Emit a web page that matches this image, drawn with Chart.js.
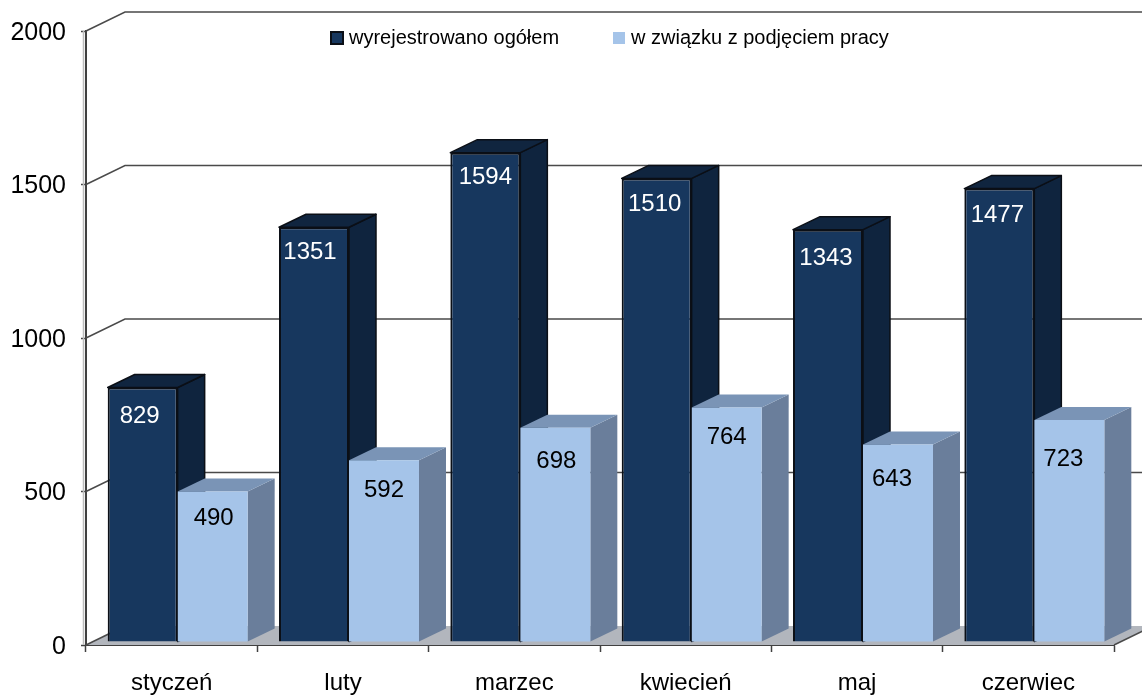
<!DOCTYPE html>
<html lang="pl">
  <head>
    <meta charset="UTF-8" />
    <title>Wyrejestrowani</title>
    <script src="https://cdn.jsdelivr.net/npm/chart.js@4/dist/chart.umd.min.js"></script>
    <style>
      html, body { margin: 0; padding: 0; background: #fff; }
      canvas { display: block; }
    </style>
  </head>
  <body>
    <canvas id="chart" width="1142" height="695"></canvas>
    <script>
      const categories = ['styczeń', 'luty', 'marzec', 'kwiecień', 'maj', 'czerwiec'];
      const seriesNames = ['wyrejestrowano ogółem', 'w związku z podjęciem pracy'];
      const wyrejestrowano = [829, 1351, 1594, 1510, 1343, 1477];
      const podjeciePracy = [490, 592, 698, 764, 643, 723];
      const yTicks = [0, 500, 1000, 1500, 2000];

      const FONT = '"Liberation Sans", Arial, sans-serif';
      const WALL = { dx: 39, dy: -19 };   // perspective shift of the back wall
      const BAR = { dx: 6, dy: -3, depthX: 27, depthY: -13 };
      const faces = [
        {
          side: '#0F243E', top: '#10253F', edge: '#0b0f16', label: '#fff', swatch: '#17375E', swatchX: 331, textX: 349,
          nudge: [[-3, 26], [-4, 22], [0, 22], [-2, 23], [-2, 26], [-2, 24]]   // label offset from bar top
        },
        {
          side: '#6A7E9B', top: '#7A94B6', edge: null, label: '#000', swatch: '#A5C4E9', swatchX: 613, textX: 631,
          nudge: [[1, 24], [0, 27], [1, 31], [0, 27], [-6, 32], [-6, 36]]
        }
      ];

      function poly(ctx, pts, fill, stroke) {
        ctx.beginPath();
        pts.forEach(([x, y], i) => (i ? ctx.lineTo(x, y) : ctx.moveTo(x, y)));
        ctx.closePath();
        ctx.fillStyle = fill;
        ctx.fill();
        if (stroke) {
          ctx.strokeStyle = stroke;
          ctx.lineWidth = 1.5;
          ctx.lineJoin = 'round';
          ctx.stroke();
        }
      }

      const box3d = {
        id: 'box3d',
        beforeDatasetsDraw(chart) {
          const { ctx, chartArea: a, scales: { y } } = chart;
          ctx.save();
          // floor
          poly(ctx, [
            [a.left, a.bottom], [a.right, a.bottom],
            [a.right + WALL.dx, a.bottom + WALL.dy], [a.left + WALL.dx, a.bottom + WALL.dy]
          ], '#B2B6BD');
          // side wall shade
          ctx.strokeStyle = '#BDBDBD';
          ctx.lineWidth = 1.5;
          ctx.beginPath();
          ctx.moveTo(a.left - 2.5, a.top);
          ctx.lineTo(a.left - 2.5, a.bottom);
          ctx.stroke();
          // gridlines run over the side wall, then along the back wall
          ctx.strokeStyle = '#4A4A4A';
          ctx.lineWidth = 1.5;
          yTicks.forEach((t) => {
            const py = y.getPixelForValue(t);
            ctx.beginPath();
            ctx.moveTo(a.left, py);
            ctx.lineTo(a.left + WALL.dx, py + WALL.dy);
            if (t > 0) ctx.lineTo(chart.width + 2, py + WALL.dy);
            ctx.stroke();
          });
          // front edge of the floor
          ctx.beginPath();
          ctx.moveTo(a.right, a.bottom);
          ctx.lineTo(a.right + WALL.dx, a.bottom + WALL.dy);
          ctx.stroke();
          // side and top faces, left series first; the library paints the fronts over them
          ctx.translate(BAR.dx, BAR.dy);
          chart.data.datasets.forEach((ds, index) => {
            const f = faces[index];
            chart.getDatasetMeta(index).data.forEach((bar) => {
              const l = bar.x - bar.width / 2;
              const r = bar.x + bar.width / 2;
              const t = bar.y;
              const b = bar.base;
              poly(ctx, [[r, t], [r + BAR.depthX, t + BAR.depthY], [r + BAR.depthX, b + BAR.depthY], [r, b]], f.side, f.edge);
              poly(ctx, [[l, t], [l + BAR.depthX, t + BAR.depthY], [r + BAR.depthX, t + BAR.depthY], [r, t]], f.top, f.edge);
            });
          });
          ctx.restore();
        },
        beforeDatasetDraw(chart) {
          chart.ctx.save();
          chart.ctx.translate(BAR.dx, BAR.dy);
        },
        afterDatasetDraw(chart, args) {
          const { ctx } = chart;
          const f = faces[args.index];
          ctx.fillStyle = f.label;
          ctx.font = '24px ' + FONT;
          ctx.textAlign = 'center';
          ctx.textBaseline = 'middle';
          args.meta.data.forEach((bar, i) => {
            ctx.fillText(chart.data.datasets[args.index].data[i], bar.x + f.nudge[i][0], bar.y + f.nudge[i][1] - BAR.dy);
          });
          ctx.restore();
        },
        afterDraw(chart) {
          const { ctx } = chart;
          ctx.save();
          ctx.font = '20px ' + FONT;
          ctx.textAlign = 'left';
          ctx.textBaseline = 'middle';
          seriesNames.forEach((name, i) => {
            const f = faces[i];
            ctx.fillStyle = f.swatch;
            ctx.fillRect(f.swatchX, 32, 12, 12);
            if (f.edge) {
              ctx.strokeStyle = f.edge;
              ctx.lineWidth = 2;
              ctx.strokeRect(f.swatchX, 32, 12, 12);
            }
            ctx.fillStyle = '#000';
            ctx.fillText(name, f.textX, 38);
          });
          ctx.restore();
        }
      };

      new Chart(document.getElementById('chart'), {
        type: 'bar',
        data: {
          labels: categories,
          datasets: [
            {
              label: seriesNames[0],
              data: wyrejestrowano,
              backgroundColor: '#17375E',
              borderColor: '#0b0f16',
              borderWidth: 2,
              clip: false
            },
            {
              label: seriesNames[1],
              data: podjeciePracy,
              backgroundColor: '#A5C4E9',
              borderWidth: 0,
              clip: false
            }
          ]
        },
        options: {
          responsive: false,
          animation: false,
          devicePixelRatio: 1,
          categoryPercentage: 0.817,
          barPercentage: 1,
          layout: { padding: { top: 31, right: 28, left: 0, bottom: 0 } },
          plugins: { legend: { display: false }, tooltip: { enabled: false } },
          scales: {
            x: {
              afterFit: (s) => { s.height = 50; },
              border: { color: '#404040', width: 2 },
              grid: { drawOnChartArea: false, tickLength: 7, tickColor: '#404040', tickWidth: 1.5 },
              ticks: { color: '#000', font: { family: FONT, size: 24 }, padding: 17, maxRotation: 0 }
            },
            y: {
              min: 0,
              max: 2000,
              afterFit: (s) => { s.width = 86; },
              border: { color: '#404040', width: 2 },
              grid: { drawOnChartArea: false, tickLength: 5, tickColor: '#404040', tickWidth: 1.5 },
              ticks: {
                color: '#000',
                font: { family: FONT, size: 25 },
                padding: 15,
                stepSize: 500,
                labelOffset: 2,
                callback: (v) => String(v)
              }
            }
          }
        },
        plugins: [box3d]
      });
    </script>
  </body>
</html>
